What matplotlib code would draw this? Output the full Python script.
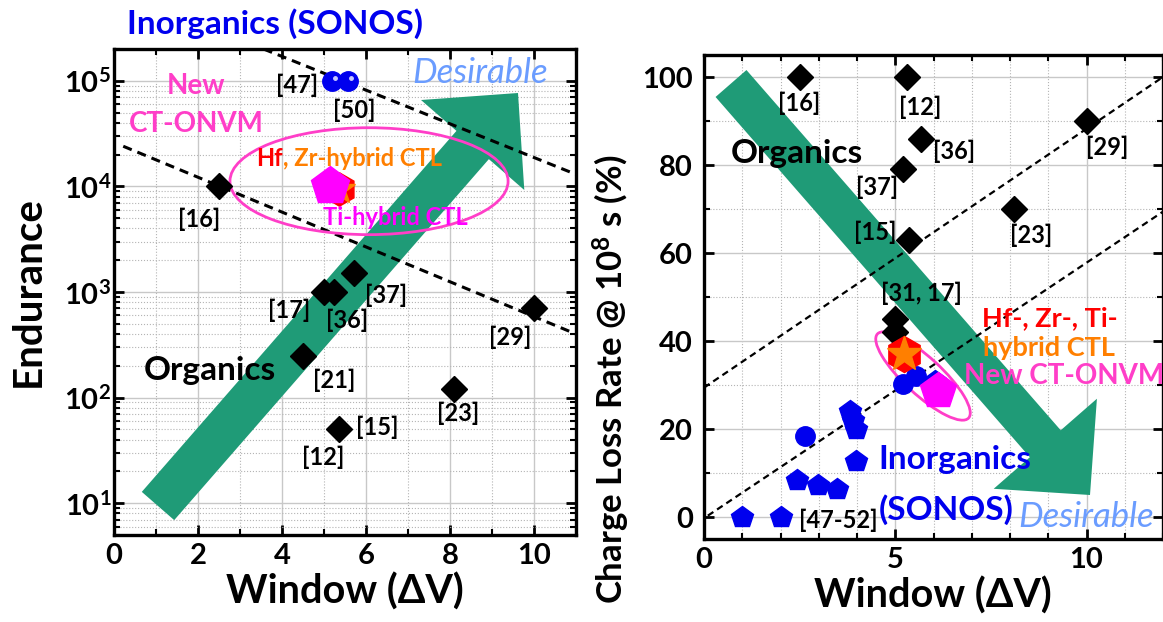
import matplotlib
matplotlib.use('Agg')
import matplotlib.pyplot as plt
import numpy as np
from matplotlib.patches import Ellipse, FancyArrow
from matplotlib.transforms import Affine2D, ScaledTranslation
from matplotlib.ticker import MultipleLocator, LogLocator, NullFormatter

plt.rcParams['font.family'] = ['Lato', 'DejaVu Sans']
plt.rcParams['font.weight'] = 'bold'
plt.rcParams['axes.labelweight'] = 'bold'
plt.rcParams['mathtext.fontset'] = 'custom'
plt.rcParams['mathtext.rm'] = 'Lato:bold'
plt.rcParams['mathtext.it'] = 'Lato:bold'
plt.rcParams['mathtext.bf'] = 'Lato:bold'
plt.rcParams['mathtext.default'] = 'rm'

# ---- left panel: endurance vs memory window ----
org_w = [2.5, 5.0, 5.23, 5.72, 10.0, 4.5, 8.1, 5.35]
org_end = [1e4, 1e3, 1e3, 1.5e3, 700, 250, 120, 50]
sonos_w = [5.19, 5.58]
sonos_end = [1e5, 1e5]
hyb_w = [5.35]
hyb_end = [9.5e3]
new_w = [5.15]
new_end = [1e4]
guideA_w = [3.56, 11.0]
guideA_end = [2e5, 1.3e4]
guideB_w = [0.22, 11.0]
guideB_end = [2.4e4, 400]

# ---- right panel: charge loss vs memory window ----
org2_w = [2.5, 5.3, 5.68, 5.2, 10.0, 8.1, 5.35, 5.0, 5.0]
org2_loss = [100, 100, 86, 79, 90, 70, 63, 45, 42]
pent_w = [1.0, 2.0, 2.42, 2.97, 3.49, 3.82, 3.9, 3.98, 3.98, 6.05]
pent_loss = [0, 0, 8.3, 7.2, 6.3, 24.2, 22, 20, 12.8, 31]
circ_w = [2.63, 5.2, 5.55]
circ_loss = [18.3, 30.2, 32]
hyb2_w = [5.24]
hyb2_loss = [37]
new2_w = [6.12]
new2_loss = [28.7]
guide2A_w = [0.0, 12.0]
guide2A_loss = [29.4, 100]
guide2B_w = [0.1, 12.0]
guide2B_loss = [0.3, 69.4]

GREEN = '#1f9b77'
BLUE = '#0000ee'
PINK = '#ff3ec8'
MAG = '#ff00ff'
ORANGE = '#ff7f00'
RED = '#ff0000'
DESIRE = '#6a9cff'

fig = plt.figure(figsize=(11.63, 6.22), dpi=100)
# image-pixel -> display transform (y down like the picture)
PX = Affine2D().scale(1 / 100, -1 / 100).translate(0, 6.22) + fig.dpi_scale_trans

axL = fig.add_axes([114 / 1163, 87 / 622, 462 / 1163, 486 / 622])
axR = fig.add_axes([704 / 1163, 83 / 622, 459 / 1163, 484 / 622])


def style(ax):
    ax.set_axisbelow(True)
    ax.grid(which='major', color='#c8c8c8', lw=1.0)
    ax.grid(which='minor', color='#b4b4b4', lw=0.8, ls=':')
    ax.tick_params(which='both', direction='in', top=True, right=True, labelsize=21)
    ax.tick_params(which='major', length=7, width=2)
    ax.tick_params(which='minor', length=4, width=1.5)
    ax.tick_params(axis='x', pad=6)
    for s in ax.spines.values():
        s.set_linewidth(2.4)


# ---------------- left ----------------
style(axL)
axL.set_yscale('log')
axL.set_xlim(0, 11)
axL.set_ylim(5, 2e5)
axL.xaxis.set_major_locator(MultipleLocator(2))
axL.xaxis.set_minor_locator(MultipleLocator(1))
axL.yaxis.set_minor_locator(LogLocator(subs=np.arange(2, 10)))
axL.yaxis.set_minor_formatter(NullFormatter())
axL.tick_params(axis='y', pad=2)

axL.add_patch(FancyArrow(158, 506, 360, -413, width=43, head_width=137, head_length=69,
                         length_includes_head=True, color=GREEN, lw=0, transform=PX,
                         zorder=1, clip_on=False))
axL.plot(guideA_w, guideA_end, ls=(0, (3, 2)), color='k', lw=2.2, zorder=2)
axL.plot(guideB_w, guideB_end, ls=(0, (3, 2)), color='k', lw=2.2, zorder=2)
axL.add_patch(Ellipse((0.552, 0.728), 0.602, 0.22, transform=axL.transAxes,
                      fill=False, ec=PINK, lw=2, zorder=2.5))

axL.plot(org_w, org_end, 'D', color='k', ms=13, ls='none', zorder=3)
axL.plot(sonos_w, sonos_end, 'o', color=BLUE, ms=14, ls='none', zorder=3)
hl = axL.transData + ScaledTranslation(2 / 72, 2 / 72, fig.dpi_scale_trans)
axL.plot(sonos_w, sonos_end, 'o', color='#c8c8ff', ms=2.5, ls='none', zorder=3.1, transform=hl)
axL.plot(hyb_w, hyb_end, 'h', color=RED, ms=24, ls='none', zorder=3)
axL.plot(hyb_w, hyb_end, '*', color=ORANGE, ms=24, ls='none', zorder=3)
axL.plot(new_w, new_end, 'p', color=MAG, ms=29, ls='none', zorder=3.2)

for t, x, y in [('[47]', 4.36, 9.0e4), ('[50]', 5.71, 5.2e4), ('[16]', 2.02, 4.9e3),
                ('[17]', 4.17, 667), ('[36]', 5.55, 537), ('[37]', 6.48, 925),
                ('[29]', 9.43, 371), ('[21]', 5.24, 145), ('[23]', 8.19, 71),
                ('[15]', 6.26, 52), ('[12]', 4.98, 27)]:
    axL.text(x, y, t, fontsize=17, ha='center', va='center', zorder=4)

axL.text(2.29, 180, 'Organics', fontsize=24, ha='center', va='center', zorder=4)
axL.text(1.95, 9e4, 'New', fontsize=20, color=PINK, ha='center', va='center', zorder=4)
axL.text(1.95, 3.9e4, 'CT-ONVM', fontsize=20, color=PINK, ha='center', va='center', zorder=4)
t1 = axL.text(3.38, 1.83e4, 'Hf', fontsize=17, color=RED, ha='left', va='center', zorder=4)
axL.annotate(', Zr-hybrid CTL', xy=(1, 0), xycoords=t1, fontsize=17, color=ORANGE,
             ha='left', va='bottom', zorder=4)
axL.text(4.98, 5.06e3, 'Ti-hybrid CTL', fontsize=17, color=MAG, ha='left', va='center', zorder=4)
axL.text(7.1, 1.19e5, 'Desirable', fontsize=25, color=DESIRE, style='italic',
         fontweight='normal', ha='left', va='center', zorder=4)
axL.text(0.348, 1.053, 'Inorganics (SONOS)', fontsize=24, color=BLUE, ha='center',
         va='center', transform=axL.transAxes)

axL.set_xlabel('Window (ΔV)', fontsize=28.5)
axL.set_ylabel('Endurance', fontsize=29)
axL.xaxis.set_label_coords(0.5, -0.078)
axL.xaxis.label.set_va('top')
axL.yaxis.set_label_coords(-0.145, 0.5)

# ---------------- right ----------------
style(axR)
axR.set_xlim(0, 12)
axR.set_ylim(-5, 105)
axR.xaxis.set_major_locator(MultipleLocator(5))
axR.xaxis.set_minor_locator(MultipleLocator(1))
axR.yaxis.set_major_locator(MultipleLocator(20))
axR.yaxis.set_minor_locator(MultipleLocator(10))
axR.tick_params(axis='y', pad=8)

axR.add_patch(FancyArrow(731, 83.5, 359, 411.5, width=41, head_width=137, head_length=68,
                         length_includes_head=True, color=GREEN, lw=0, transform=PX,
                         zorder=1, clip_on=False))
axR.plot(guide2A_w, guide2A_loss, ls=(0, (3, 2)), color='k', lw=1.6, zorder=2)
axR.plot(guide2B_w, guide2B_loss, ls=(0, (3, 2)), color='k', lw=1.6, zorder=2)
axR.add_patch(Ellipse((923, 376), 124, 37, angle=42.7, transform=PX,
                      fill=False, ec=PINK, lw=2, zorder=2.5, clip_on=False))

axR.plot(org2_w, org2_loss, 'D', color='k', ms=13, ls='none', zorder=3)
axR.plot(pent_w, pent_loss, 'p', color=BLUE, ms=16, ls='none', zorder=3)
axR.plot(circ_w, circ_loss, 'o', color=BLUE, ms=14, ls='none', zorder=3)
axR.plot(hyb2_w, hyb2_loss, 'h', color=RED, ms=26, ls='none', zorder=3)
axR.plot(hyb2_w, hyb2_loss, '*', color=ORANGE, ms=26, ls='none', zorder=3.1)
axR.plot(new2_w, new2_loss, 'p', color=MAG, ms=27, ls='none', zorder=3.2)

for t, x, y in [('[16]', 2.48, 94.1), ('[12]', 5.64, 93.2), ('[36]', 6.53, 83.0),
                ('[37]', 4.52, 75.0), ('[29]', 10.55, 84.1), ('[23]', 8.56, 64.1),
                ('[15]', 4.49, 64.8), ('[31, 17]', 5.69, 50.9)]:
    axR.text(x, y, t, fontsize=17, ha='center', va='center', zorder=4)

axR.text(2.43, 82.7, 'Organics', fontsize=24, ha='center', va='center', zorder=4)
axR.text(9.03, 45.2, 'Hf-, Zr-, Ti-', fontsize=19.5, color=RED, ha='center', va='center', zorder=4)
axR.text(9.03, 38.4, 'hybrid CTL', fontsize=19.5, color=ORANGE, ha='center', va='center', zorder=4)
axR.text(6.81, 32.0, 'New CT-ONVM', fontsize=20, color=PINK, ha='left', va='center', zorder=4)
axR.text(4.57, 13.0, 'Inorganics', fontsize=24, color=BLUE, ha='left', va='center', zorder=4)
axR.text(4.57, 1.6, '(SONOS)', fontsize=24, color=BLUE, ha='left', va='center', zorder=4)
axR.text(8.22, 0, 'Desirable', fontsize=25, color=DESIRE, style='italic',
         fontweight='normal', ha='left', va='center', zorder=4)
axR.text(2.48, -0.7, '[47-52]', fontsize=17, ha='left', va='center', zorder=4)

axR.set_xlabel('Window (ΔV)', fontsize=28.5)
axR.set_ylabel('Charge Loss Rate @ 10$^8$ s (%)', fontsize=25)
axR.xaxis.set_label_coords(0.498, -0.078)
axR.xaxis.label.set_va('top')
axR.yaxis.set_label_coords(-0.157, 0.33)

fig.savefig('out.png', dpi=100)
